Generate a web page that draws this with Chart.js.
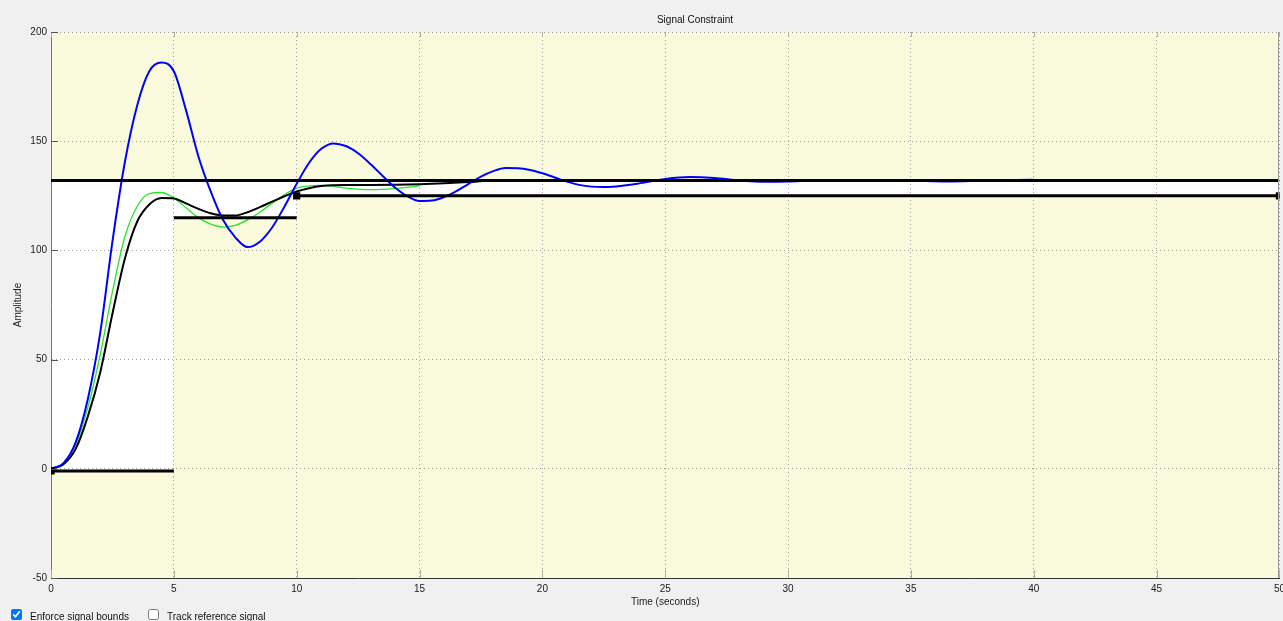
<!DOCTYPE html>
<html>
<head>
<meta charset="utf-8">
<script src="https://cdn.jsdelivr.net/npm/chart.js@4.4.0/dist/chart.umd.min.js"></script>
<style>
body { margin: 0; background: #f0f0f0; overflow: hidden; font-family: 'Liberation Sans', Arial, sans-serif; font-size: 10px; color: #111; }
#wrap { position: absolute; left: 0; top: 0; width: 1290px; height: 621px; }
#title { position: absolute; left: 695px; top: 14px; transform: translateX(-50%); white-space: nowrap; line-height: 12px; }
.opt { position: absolute; top: 609px; height: 12px; white-space: nowrap; }
.opt input { position: absolute; left: 0; top: 0; width: 11px; height: 11px; margin: 0; }
.opt span { position: absolute; left: 19px; top: 2px; line-height: 12px; }
</style>
</head>
<body>
<div id="wrap"><canvas id="myChart"></canvas></div>
<div id="title">Signal Constraint</div>
<div class="opt" style="left:11px"><input type="checkbox" checked><span>Enforce signal bounds</span></div>
<div class="opt" style="left:148px"><input type="checkbox"><span>Track reference signal</span></div>
<script>
var xTicks = [0, 5, 10, 15, 20, 25, 30, 35, 40, 45, 50];
var yTicks = [-50, 0, 50, 100, 150, 200];

// signal bounds (piecewise)
var upperTimes = [0, 50];
var upperLevel = 132;
var lowerTimes = [[0, 5], [5, 10], [10, 50]];
var lowerLevels = [-1, 115, 125];

// responses
var blueT = [0, 0.5, 1, 1.5, 2, 2.5, 3, 3.5, 4, 4.5, 5, 5.5, 6, 6.5, 7, 7.5, 8, 8.5, 9, 9.5,
    10, 10.5, 11, 11.5, 12, 12.5, 13, 13.5, 14, 14.5, 15, 15.5, 16, 16.5, 17, 17.5, 18, 18.5, 19, 19.5,
    20, 20.5, 21, 21.5, 22, 22.5, 23, 23.5, 24, 25, 26, 27, 28, 29, 30, 31, 33, 35, 36.5, 38, 40];
var blueY = [0, 2.5, 12, 32, 62, 104, 140, 166, 182, 186, 182, 164, 143, 127, 114, 106, 101.5, 104, 110.5, 120,
    130.5, 140, 146.5, 149, 147.8, 144.5, 139.6, 134.1, 128.8, 124.8, 122.6, 122.8, 124.4, 127.1, 130.5, 133.8, 136.3, 137.7, 137.6, 136.8,
    135.3, 133.4, 131.5, 130, 129.2, 129, 129.3, 129.9, 130.8, 132.7, 133.6, 133.2, 132.1, 131.4, 131.5, 132, 132.2, 132, 131.6, 132, 132.3];

var greenT = [0, 0.5, 1, 1.5, 2, 2.5, 3, 3.5, 4, 4.5, 5, 5.5, 6, 6.5, 7, 7.5, 8, 8.5, 9, 9.5, 10, 11, 12, 13, 14, 15];
var greenY = [0, 2.5, 11, 28, 52, 81, 106, 120, 126, 126.5, 124, 119.5, 115, 112, 110.7, 111.5, 114, 117.5, 121.5, 125.5, 128.5, 129.8, 128.5, 127.8, 128.3, 129.5];

var blackT = [0, 0.5, 1, 1.5, 2, 2.5, 3, 3.5, 4, 4.5, 5, 5.5, 6, 6.5, 7, 7.5, 8, 8.5, 9, 9.5, 10, 10.5, 11, 12, 13, 14, 15, 16, 17, 18, 20];
var blackY = [0, 2, 9, 24, 44, 71, 96, 113, 121, 124, 123.8, 121.5, 119, 117, 116, 116, 117.5, 119.8, 122.3, 124.8, 127, 128.5, 129.5, 130, 130, 130.1, 130.3, 130.7, 131.3, 132, 132];

function pts(ts, ys) {
    return ts.map(function (t, i) { return { x: t, y: ys[i] }; });
}

var tickFont = { family: "'Liberation Sans', Arial, sans-serif", size: 10 };

var plotArea = {
    id: 'plotArea',
    beforeDraw: function (chart) {
        var c = chart.ctx, a = chart.chartArea, x = chart.scales.x, y = chart.scales.y;
        c.save();
        c.fillStyle = '#fafadc';
        c.fillRect(a.left, a.top, a.right - a.left, a.bottom - a.top);
        // feasible region between lower bounds and upper bound
        c.fillStyle = '#ffffff';
        var yTop = y.getPixelForValue(upperLevel);
        lowerTimes.forEach(function (seg, i) {
            var x0 = x.getPixelForValue(seg[0]), x1 = x.getPixelForValue(seg[1]);
            var yBot = y.getPixelForValue(lowerLevels[i]);
            c.fillRect(x0, yTop, x1 - x0, yBot - yTop);
        });
        c.restore();
    },
    afterDraw: function (chart) {
        var c = chart.ctx, a = chart.chartArea, x = chart.scales.x, y = chart.scales.y;
        c.save();
        c.lineWidth = 1;
        c.strokeStyle = '#b0b0a0';
        xTicks.forEach(function (v) {
            var px = Math.round(x.getPixelForValue(v)) + 0.5;
            c.beginPath();
            c.moveTo(px, a.bottom); c.lineTo(px, a.bottom - 8);
            c.moveTo(px, a.top); c.lineTo(px, a.top + 5);
            c.stroke();
        });
        c.strokeStyle = '#555';
        yTicks.forEach(function (v) {
            var py = Math.round(y.getPixelForValue(v)) + 0.5;
            c.beginPath();
            c.moveTo(a.left, py); c.lineTo(a.left + 7, py);
            c.stroke();
        });
        c.strokeStyle = '#999';
        c.beginPath();
        c.moveTo(Math.round(a.right) - 0.5, a.top); c.lineTo(Math.round(a.right) - 0.5, a.bottom);
        c.stroke();
        c.restore();
    }
};

var ctx = document.getElementById('myChart').getContext('2d');

var myChart = new Chart(ctx, {
    type: 'line',
    data: {
        datasets: [{
                label: 'Upper bound',
                data: pts(upperTimes, [upperLevel, upperLevel]),
                borderColor: '#000',
                borderWidth: 3,
                pointRadius: 0
            }, {
                label: 'Lower bound 1',
                data: pts(lowerTimes[0], [lowerLevels[0], lowerLevels[0]]),
                borderColor: '#000',
                backgroundColor: '#000',
                borderWidth: 3,
                pointStyle: 'rect',
                pointRadius: [3, 0]
            }, {
                label: 'Lower bound 2',
                data: pts(lowerTimes[1], [lowerLevels[1], lowerLevels[1]]),
                borderColor: '#000',
                borderWidth: 3,
                pointRadius: 0
            }, {
                label: 'Lower bound 3',
                data: pts(lowerTimes[2], [lowerLevels[2], lowerLevels[2]]),
                borderColor: '#000',
                backgroundColor: '#000',
                borderWidth: 3,
                pointStyle: 'rect',
                pointRadius: [3, 3]
            }, {
                label: 'Response 1',
                data: pts(blueT, blueY),
                borderColor: '#0000ff',
                borderWidth: 2,
                pointRadius: 0,
                cubicInterpolationMode: 'monotone'
            }, {
                label: 'Response 3',
                data: pts(blackT, blackY),
                borderColor: '#000000',
                borderWidth: 2,
                pointRadius: 0,
                cubicInterpolationMode: 'monotone'
            }, {
                label: 'Response 2',
                data: pts(greenT, greenY),
                borderColor: '#22e622',
                borderWidth: 1.3,
                pointRadius: 0,
                cubicInterpolationMode: 'monotone'
            }]
    },
    options: {
        responsive: true,
        maintainAspectRatio: false,
        animation: false,
        layout: { padding: { top: 32, right: 9, left: 0, bottom: 0 } },
        plugins: {
            legend: { display: false },
            tooltip: { enabled: false }
        },
        scales: {
            x: {
                type: 'linear',
                min: 0,
                max: 50,
                afterBuildTicks: function (s) { s.ticks = xTicks.map(function (v) { return { value: v }; }); },
                afterFit: function (s) { s.height = 43; },
                grid: { color: '#a0a0a0', drawTicks: false },
                border: { color: '#333', width: 1, dash: [1, 3] },
                ticks: { font: tickFont, color: '#222', padding: 5, maxRotation: 0, autoSkip: false },
                title: { display: true, text: 'Time (seconds)', font: tickFont, color: '#222', padding: { top: 0, bottom: 13 } }
            },
            y: {
                min: -50,
                max: 200,
                afterBuildTicks: function (s) { s.ticks = yTicks.map(function (v) { return { value: v }; }); },
                afterFit: function (s) { s.width = 51; },
                grid: { color: '#a0a0a0', drawTicks: false },
                border: { color: '#777', width: 1, dash: [1, 3] },
                ticks: { font: tickFont, color: '#222', padding: 4 },
                title: { display: true, text: 'Amplitude', font: tickFont, color: '#222', padding: { top: 12, bottom: 0 } }
            }
        }
    },
    plugins: [plotArea]
});
</script>
</body>
</html>
